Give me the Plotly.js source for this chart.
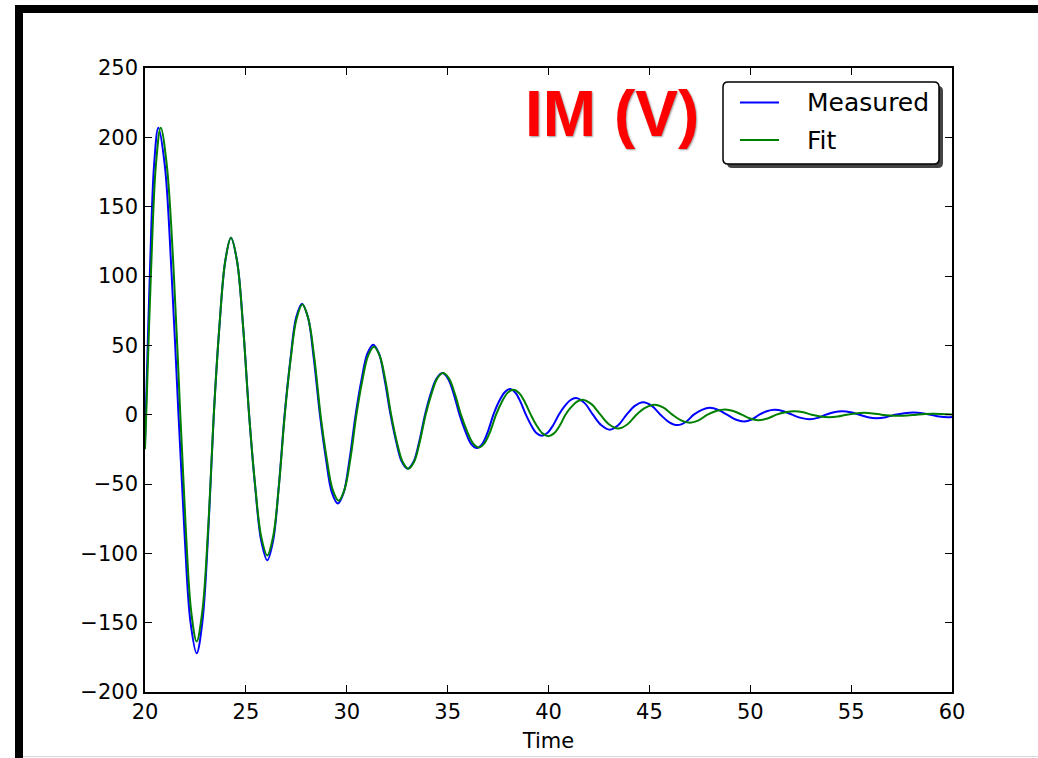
<!DOCTYPE html>
<html>
<head>
<meta charset="utf-8">
<script src="https://cdn.plot.ly/plotly-3.0.1.min.js"></script>
<style>
html,body{margin:0;padding:0;background:#fff;}
#chart{width:1038px;height:758px;}
</style>
</head>
<body>
<div id="chart"></div>
<script>
// ---- data (extrema, zero crossings and slope points) ----
const measuredX = [20.0, 20.04, 20.25, 20.45, 20.66,
  20.98, 21.31, 21.66, 21.96, 22.25, 22.56,
  22.84, 23.13, 23.41, 23.69, 23.98, 24.26,
  24.56, 24.86, 25.16, 25.46, 25.76, 26.06,
  26.35, 26.63, 26.92, 27.21, 27.49, 27.78,
  28.08, 28.37, 28.67, 28.97, 29.26, 29.56,
  29.85, 30.14, 30.44, 30.73, 31.02, 31.31,
  31.6, 31.88, 32.17, 32.45, 32.73, 33.02,
  33.31, 33.59, 33.88, 34.16, 34.45, 34.73,
  35.02, 35.3, 35.59, 35.88, 36.16, 36.45,
  36.72, 37.0, 37.27, 37.54, 37.82, 38.09,
  38.35, 38.61, 38.88, 39.14, 39.4, 39.66,
  39.94, 40.23, 40.51, 40.79, 41.08, 41.36,
  41.78, 42.2, 42.62, 43.04,
  43.45, 43.87, 44.28, 44.69,
  45.12, 45.55, 45.97, 46.4,
  46.8, 47.2, 47.6, 48.0,
  48.42, 48.85, 49.27, 49.7,
  50.07, 50.45, 50.82, 51.2,
  51.64, 52.07, 52.51, 52.95,
  53.35, 53.75, 54.15, 54.55,
  54.98, 55.4, 55.83, 56.26,
  56.72, 57.18, 57.64, 58.1,
  58.52, 58.95, 59.37, 59.8, 60.0];
const measuredY = [-20, 0, 106, 180, 207,
  180, 104, 0, -86, -149, -172,
  -150, -86, 0, 64, 111, 127.5,
  111, 64, 0, -52, -91, -105,
  -91, -52, 0, 40, 70, 80,
  70, 40, 0, -32, -56, -64,
  -56, -32, 0, 25, 44, 50.5,
  44, 25, 0, -19.5, -34, -39,
  -34, -19.5, 0, 15, 26, 30,
  26, 15, 0, -12, -21, -24,
  -21, -12, 0, 9.3, 16, 18.5,
  16, 9.3, 0, -7.6, -13.2, -15.2,
  -13.2, -7.6, 0, 6, 10.4, 12,
  8.5, 0, -7.6, -10.8,
  -7.6, 0, 6.3, 8.9,
  6.3, 0, -5.3, -7.5,
  -5.3, 0, 3.5, 5,
  3.5, 0, -3.5, -5,
  -3.5, 0, 2.5, 3.5,
  2.5, 0, -2.3, -3.3,
  -2.3, 0, 1.8, 2.5,
  1.8, 0, -1.8, -2.5,
  -1.8, 0, 1.1, 1.5,
  1.1, 0, -1.3, -1.8, -1.6];

const fitX = [20.0, 20.06, 20.3, 20.54, 20.78,
  21.08, 21.42, 21.75, 22.02, 22.29, 22.56,
  22.84, 23.13, 23.41, 23.69, 23.98, 24.26,
  24.56, 24.86, 25.16, 25.46, 25.76, 26.06,
  26.35, 26.64, 26.93, 27.22, 27.51, 27.8,
  28.1, 28.4, 28.7, 29.0, 29.3, 29.6,
  29.89, 30.19, 30.48, 30.77, 31.06, 31.35,
  31.63, 31.92, 32.2, 32.48, 32.77, 33.05,
  33.34, 33.62, 33.91, 34.2, 34.48, 34.77,
  35.07, 35.36, 35.66, 35.96, 36.25, 36.55,
  36.83, 37.12, 37.4, 37.68, 37.97, 38.25,
  38.54, 38.83, 39.12, 39.41, 39.7, 39.99,
  40.27, 40.56, 40.84, 41.12, 41.41, 41.69,
  42.13, 42.57, 43.01, 43.45,
  43.9, 44.36, 44.81, 45.27,
  45.7, 46.14, 46.57, 47.0,
  47.44, 47.88, 48.31, 48.75,
  49.16, 49.58, 49.99, 50.4,
  50.85, 51.3, 51.75, 52.2,
  52.63, 53.05, 53.48, 53.9,
  54.34, 54.78, 55.21, 55.65,
  56.08, 56.5, 56.93, 57.35,
  57.79, 58.23, 58.66, 59.1, 60.0];
const fitY = [-25, 0, 104, 180, 207,
  180, 104, 0, -82, -142, -163.5,
  -142, -82, 0, 64, 111, 127.5,
  111, 64, 0, -51, -88, -101.5,
  -88, -51, 0, 40, 69, 79.4,
  69, 40, 0, -31, -54, -62,
  -54, -31, 0, 24.5, 42.6, 49,
  42.6, 24.5, 0, -19.5, -34, -39,
  -34, -19.5, 0, 15, 26, 30,
  26, 15, 0, -11.8, -20.5, -23.6,
  -20.5, -11.8, 0, 9, 15.7, 18,
  15.7, 9, 0, -7.8, -13.5, -15.5,
  -13.5, -7.8, 0, 5.4, 9.4, 10.8,
  7.6, 0, -7.1, -10,
  -7.1, 0, 5.1, 7.2,
  5.1, 0, -4.1, -5.8,
  -4.1, 0, 2.7, 3.8,
  2.7, 0, -2.8, -4,
  -2.8, 0, 1.7, 2.4,
  1.7, 0, -1.3, -1.8,
  -1.3, 0, 0.9, 1.3,
  0.9, 0, -0.6, -0.8,
  -0.6, 0, 0.5, 0.7, 0.1];

const seriesNames = ["Measured", "Fit"];
const seriesColors = ["#0000ff", "#008000"];
const xTickVals = [20, 25, 30, 35, 40, 45, 50, 55, 60];
const xTickText = ["20", "25", "30", "35", "40", "45", "50", "55", "60"];
const yTickVals = [-200, -150, -100, -50, 0, 50, 100, 150, 200, 250];
const yTickText = ["\u2212200", "\u2212150", "\u2212100", "\u221250", "0", "50", "100", "150", "200", "250"];
const xTitle = "Time";
const chartLabel = "IM (V)";

// ---- layout helpers (pixel -> paper) ----
const L = 145, R = 952, T = 68, B = 692;
const W = 1038, H = 758;
const px = x => (x - L) / (R - L);
const py = y => (B - y) / (B - T);

function roundRect(x0, y0, x1, y1, r) {
  const P = (x, y) => px(x) + ',' + py(y);
  return 'M' + P(x0 + r, y0) + ' L' + P(x1 - r, y0) + ' Q' + P(x1, y0) + ' ' + P(x1, y0 + r) +
    ' L' + P(x1, y1 - r) + ' Q' + P(x1, y1) + ' ' + P(x1 - r, y1) +
    ' L' + P(x0 + r, y1) + ' Q' + P(x0, y1) + ' ' + P(x0, y1 - r) +
    ' L' + P(x0, y0 + r) + ' Q' + P(x0, y0) + ' ' + P(x0 + r, y0) + ' Z';
}

const traces = [
  {x: measuredX, y: measuredY, name: seriesNames[0], type: 'scatter', mode: 'lines',
   line: {color: seriesColors[0], width: 2, shape: 'spline', smoothing: 1.0}},
  {x: fitX, y: fitY, name: seriesNames[1], type: 'scatter', mode: 'lines',
   line: {color: seriesColors[1], width: 2, shape: 'spline', smoothing: 1.0}}
];

const axisCommon = {
  showline: true, linecolor: '#000', linewidth: 1.5, mirror: 'ticks',
  ticks: 'inside', ticklen: 7, tickwidth: 1, tickcolor: '#000',
  showgrid: false, zeroline: false,
  tickfont: {family: 'DejaVu Sans', size: 21, color: '#000'}
};

// legend drawn in the matplotlib style: rounded box with a drop shadow
const legendRows = [102.5, 140];
const legendShapes = [
  {type: 'path', xref: 'paper', yref: 'paper', path: roundRect(727, 86, 943, 168, 5),
   fillcolor: '#444', line: {width: 0}, layer: 'above'},
  {type: 'path', xref: 'paper', yref: 'paper', path: roundRect(723, 82, 939, 164, 5),
   fillcolor: '#fff', line: {color: '#000', width: 1.5}, layer: 'above'}
];
const legendAnnotations = [];
seriesNames.forEach((name, i) => {
  legendShapes.push({type: 'line', xref: 'paper', yref: 'paper',
    x0: px(740), x1: px(779), y0: py(legendRows[i]), y1: py(legendRows[i]),
    line: {color: seriesColors[i], width: 2}, layer: 'above'});
  legendAnnotations.push({text: name, xref: 'paper', yref: 'paper',
    x: px(805), y: py(legendRows[i]), xanchor: 'left', yanchor: 'middle', showarrow: false,
    font: {family: 'DejaVu Sans', size: 25, color: '#000'}});
});

const layout = {
  width: W, height: H,
  margin: {l: L, r: W - R, t: T, b: H - B, pad: 0},
  paper_bgcolor: '#fff', plot_bgcolor: '#fff',
  font: {family: 'DejaVu Sans', color: '#000'},
  xaxis: Object.assign({}, axisCommon, {
    range: [20, 60], tickmode: 'array', tickvals: xTickVals, ticktext: xTickText,
    ticklabelstandoff: 0,
    title: {text: xTitle, font: {family: 'DejaVu Sans', size: 21, color: '#000'}, standoff: 10}
  }),
  yaxis: Object.assign({}, axisCommon, {
    range: [-200, 250], tickmode: 'array', tickvals: yTickVals, ticktext: yTickText,
    ticklabelstandoff: 1
  }),
  showlegend: false,
  shapes: [
    // image frame
    {type: 'rect', xref: 'paper', yref: 'paper', x0: px(15), x1: px(1040), y0: py(5), y1: py(13),
     fillcolor: '#000', line: {width: 0}, layer: 'above'},
    {type: 'rect', xref: 'paper', yref: 'paper', x0: px(15), x1: px(23), y0: py(5), y1: py(760),
     fillcolor: '#000', line: {width: 0}, layer: 'above'},
    {type: 'line', xref: 'paper', yref: 'paper', x0: px(23), x1: px(1040), y0: py(756.5), y1: py(756.5),
     line: {color: '#d8d8d8', width: 1}, layer: 'above'}
  ].concat(legendShapes),
  annotations: [
    {text: '<b>' + chartLabel + '</b>', xref: 'paper', yref: 'paper', x: px(612), y: py(114),
     xanchor: 'center', yanchor: 'middle', showarrow: false,
     font: {family: 'Liberation Sans', size: 64, color: '#ff0000', shadow: '1px 1px 2px #999'}}
  ].concat(legendAnnotations)
};

Plotly.newPlot('chart', traces, layout, {displayModeBar: false, responsive: false});
</script>
</body>
</html>
